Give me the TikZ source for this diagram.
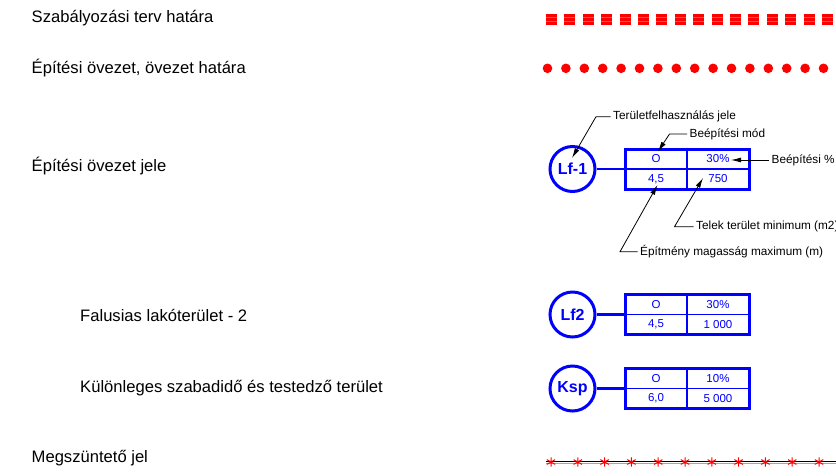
\documentclass[tikz,border=0pt]{standalone}
\usepackage{fontspec}
\setmainfont{Liberation Sans}
\usetikzlibrary{arrows.meta}
\definecolor{cadblue}{RGB}{0,0,255}
\definecolor{cadred}{RGB}{255,0,0}
\begin{document}
\begin{tikzpicture}[x=1pt,y=-1pt,
  lbl/.style={anchor=west, inner sep=0pt, font=\fontsize{16.6}{20}\selectfont},
  ann/.style={anchor=west, inner sep=0pt, font=\fontsize{11.8}{14}\selectfont},
  zone/.style={circle, draw=cadblue, line width=3pt, minimum size=45pt, inner sep=0pt, text=cadblue, font=\bfseries\fontsize{16}{19}\selectfont},
  tbl/.style={draw=cadblue, line width=3pt, minimum width=124pt, minimum height=40pt, inner sep=0pt},
  cell/.style={text=cadblue, inner sep=0pt, font=\fontsize{11.5}{14}\selectfont},
  divider/.style={draw=cadblue, line width=1.4pt},
  link/.style={draw=cadblue, line width=2.6pt},
  leader/.style={line width=0.8pt, -{Latex[length=10pt,width=5pt]}}
]
\clip (0,0) rectangle (836,475);
\fill[white] (0,0) rectangle (836,475);

% left labels
\node[lbl] (l1) at (31.5,18.5) {Szabályozási terv határa};
\node[lbl] (l2) at (31.5,68.5) {Építési övezet, övezet határa};
\node[lbl] (l3) at (31.5,166.5) {Építési övezet jele};
\node[lbl] (l4) at (80,315.5) {Falusias lakóterület - 2};
\node[lbl] (l5) at (80,388.5) {Különleges szabadidő és testedző terület};
\node[lbl] (l6) at (31.5,458.5) {Megszüntető jel};

% plan boundary: red squares
\foreach \i in {0,...,15}{
  \fill[cadred] ({546+\i*18.4},14) rectangle ++(11,10.5);
  \draw[red!70!white, line width=0.5pt] ({546+\i*18.4},17.6) -- ++(11,0);
  \draw[red!70!white, line width=0.5pt] ({546+\i*18.4},21.0) -- ++(11,0);
}

% zone boundary: red dots
\foreach \i in {0,...,15}{
  \fill[cadred] ({547.5+\i*18.4},68.3) circle (4.8pt);
}

% cancel line with stars
\draw[gray!70, line width=1pt] (546,463.3) -- (836,463.3);
\draw[black, line width=1.2pt] (546,461.8) -- (836,461.8);
\foreach \i in {0,...,10}{
  \draw[cadred, line width=1pt] ({551+\i*26.8},462) +(0,-4.6) -- +(0,4.6)
     +(-4.2,-2.4) -- +(4.2,2.4) +(-4.2,2.4) -- +(4.2,-2.4);
}

% zone symbol Lf-1
\node[zone] (z1) at (572.5,169) {Lf-1};
\node[tbl] (b1) at (687,169) {};
\draw[divider] (b1.north) -- (b1.south);
\draw[divider] (b1.west) -- (b1.east);
\draw[link] (z1) -- (b1);
\node[cell] (c11) at (656,159) {O};
\node[cell] (c12) at (718,159) {30\%};
\node[cell] (c13) at (656,179) {4,5};
\node[cell] (c14) at (718,179) {750};

% annotations
\node[ann] (t1) at (613,116.7) {Területfelhasználás jele};
\node[ann] (t2) at (689.5,134) {Beépítési mód};
\node[ann] (t3) at (771.5,160) {Beépítési \%};
\node[ann] (t4) at (696,226.7) {Telek terület minimum (m2)};
\node[ann] (t5) at (640,251.7) {Építmény magasság maximum (m)};
\coordinate (k1) at (596,116.7);
\coordinate (p1) at (572,158);
\coordinate (k2) at (669.5,134);
\coordinate (p2) at (658,151.5);
\coordinate (p3) at (731,160);
\coordinate (k4) at (674.5,226.7);
\coordinate (p4) at (703,178);
\coordinate (k5) at (620,251.7);
\coordinate (p5) at (657.5,185);
\draw[leader] ([xshift=-2.5pt]t1.west) -- (k1) -- (p1);
\draw[leader] ([xshift=-2.5pt]t2.west) -- (k2) -- (p2);
\draw[leader] ([xshift=-3pt]t3.west) -- (p3);
\draw[leader] ([xshift=-2.5pt]t4.west) -- (k4) -- (p4);
\draw[leader] ([xshift=-2.5pt]t5.west) -- (k5) -- (p5);

% zone symbol Lf2
\node[zone] (z2) at (572.5,314.5) {Lf2};
\node[tbl] (b2) at (687,314.5) {};
\draw[divider] (b2.north) -- (b2.south);
\draw[divider] (b2.west) -- (b2.east);
\draw[link] (z2) -- (b2);
\node[cell] (c21) at (656,304.5) {O};
\node[cell] (c22) at (718,304.5) {30\%};
\node[cell] (c23) at (656,324.5) {4,5};
\node[cell] (c24) at (718,324.5) {1 000};

% zone symbol Ksp
\node[zone] (z3) at (572.5,388.5) {Ksp};
\node[tbl] (b3) at (687,388.5) {};
\draw[divider] (b3.north) -- (b3.south);
\draw[divider] (b3.west) -- (b3.east);
\draw[link] (z3) -- (b3);
\node[cell] (c31) at (656,378.5) {O};
\node[cell] (c32) at (718,378.5) {10\%};
\node[cell] (c33) at (656,398.5) {6,0};
\node[cell] (c34) at (718,398.5) {5 000};
\end{tikzpicture}
\end{document}
